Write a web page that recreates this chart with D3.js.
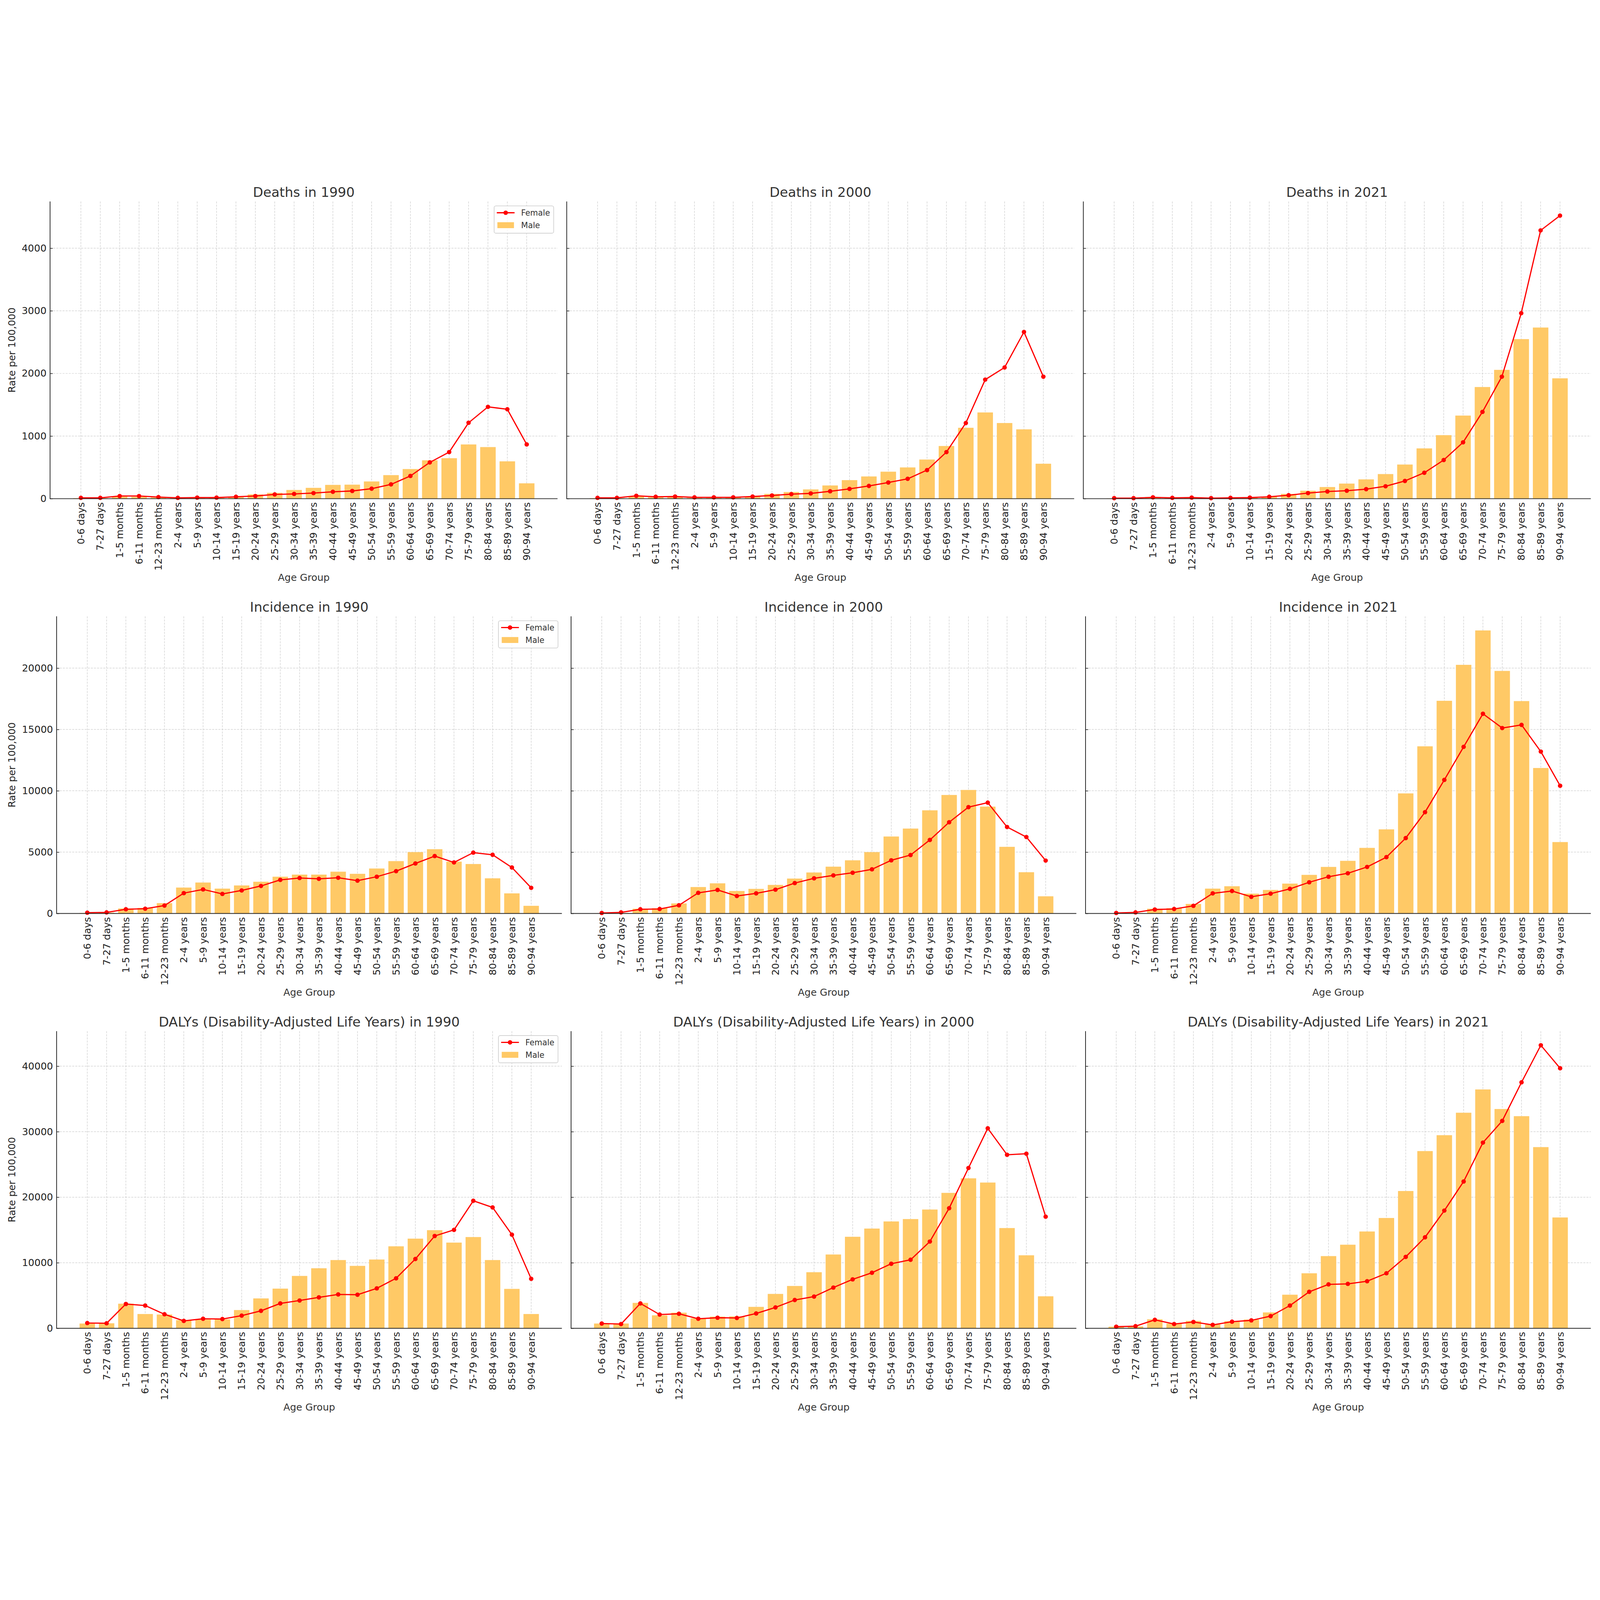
<!DOCTYPE html>
<html>
<head>
<meta charset="utf-8">
<script src="https://d3js.org/d3.v7.min.js"></script>
<style>
  html, body { margin: 0; padding: 0; background: #fff; overflow: hidden; }
  svg { display: block; }
  text { font-family: "DejaVu Sans", sans-serif; }
</style>
</head>
<body>
<script>
// age groups on the x axis
var ageGroups = ["0-6 days", "7-27 days", "1-5 months", "6-11 months", "12-23 months",
    "2-4 years", "5-9 years", "10-14 years", "15-19 years", "20-24 years", "25-29 years",
    "30-34 years", "35-39 years", "40-44 years", "45-49 years", "50-54 years", "55-59 years",
    "60-64 years", "65-69 years", "70-74 years", "75-79 years", "80-84 years", "85-89 years",
    "90-94 years"];

var years = ["1990", "2000", "2021"];

// deaths, rate per 100,000
var deaths1990Female = [13, 13, 42, 42, 25, 13, 17, 17, 30, 42, 68, 76, 89, 110, 123, 160, 228, 363, 579, 744, 1212, 1466, 1428, 866];
var deaths1990Male = [8, 8, 34, 30, 20, 8, 12, 12, 25, 68, 93, 139, 173, 220, 224, 275, 376, 473, 613, 646, 866, 824, 596, 245];
var deaths2000Female = [13, 13, 46, 30, 34, 21, 21, 21, 34, 51, 72, 84, 118, 156, 203, 258, 317, 456, 744, 1208, 1901, 2095, 2662, 1948];
var deaths2000Male = [8, 8, 38, 25, 25, 13, 13, 17, 34, 76, 106, 148, 211, 296, 355, 431, 499, 625, 841, 1132, 1377, 1208, 1107, 558];
var deaths2021Female = [8, 8, 21, 13, 17, 8, 13, 17, 30, 55, 89, 114, 127, 152, 198, 283, 414, 617, 900, 1386, 1948, 2962, 4284, 4520];
var deaths2021Male = [5, 5, 25, 17, 21, 8, 13, 17, 34, 76, 127, 186, 241, 308, 393, 545, 803, 1014, 1327, 1783, 2057, 2548, 2733, 1922];

// incidence, rate per 100,000
var incidence1990Female = [65, 86, 345, 388, 647, 1660, 1962, 1595, 1876, 2242, 2738, 2889, 2824, 2911, 2673, 2997, 3450, 4075, 4679, 4161, 4959, 4786, 3751, 2091];
var incidence1990Male = [43, 65, 410, 453, 841, 2113, 2523, 2027, 2285, 2587, 2997, 3169, 3169, 3407, 3234, 3666, 4269, 5002, 5239, 4226, 4032, 2867, 1639, 625];
var incidence2000Female = [43, 86, 345, 367, 668, 1682, 1919, 1423, 1639, 1940, 2480, 2867, 3105, 3320, 3601, 4334, 4765, 5994, 7438, 8667, 9034, 7050, 6231, 4312];
var incidence2000Male = [20, 40, 388, 431, 819, 2156, 2458, 1833, 2005, 2328, 2846, 3342, 3816, 4334, 5002, 6274, 6921, 8409, 9659, 10069, 8710, 5433, 3363, 1401];
var incidence2021Female = [43, 86, 323, 367, 625, 1639, 1833, 1358, 1617, 2005, 2544, 2997, 3277, 3795, 4592, 6145, 8258, 10888, 13583, 16278, 15114, 15373, 13195, 10414];
var incidence2021Male = [10, 30, 388, 431, 776, 2027, 2221, 1617, 1919, 2436, 3148, 3795, 4291, 5347, 6856, 9788, 13626, 17335, 20267, 23070, 19771, 17313, 11858, 5821];

// DALYs, rate per 100,000
var dalys1990Female = [807, 767, 3713, 3471, 2139, 1130, 1453, 1413, 1937, 2664, 3794, 4238, 4722, 5166, 5126, 6095, 7628, 10575, 14086, 15015, 19455, 18446, 14288, 7548];
var dalys1990Male = [727, 767, 3754, 2180, 2099, 1251, 1332, 1372, 2785, 4561, 6054, 7991, 9162, 10413, 9525, 10494, 12512, 13682, 14974, 13077, 13924, 10413, 6014, 2180];
var dalys2000Female = [727, 646, 3794, 2099, 2220, 1453, 1614, 1574, 2260, 3188, 4318, 4843, 6216, 7467, 8476, 9848, 10454, 13239, 18325, 24460, 30515, 26478, 26640, 17033];
var dalys2000Male = [727, 727, 3875, 1978, 2381, 1534, 1776, 1816, 3269, 5247, 6458, 8557, 11261, 13965, 15217, 16306, 16669, 18123, 20666, 22886, 22240, 15297, 11140, 4884];
var dalys2021Female = [242, 323, 1292, 646, 969, 525, 1009, 1211, 1857, 3471, 5570, 6700, 6781, 7185, 8395, 10898, 13884, 17962, 22402, 28335, 31645, 37538, 43189, 39677];
var dalys2021Male = [242, 283, 1372, 727, 1130, 605, 1090, 1332, 2422, 5126, 8395, 11019, 12755, 14773, 16831, 20948, 27043, 29465, 32896, 36447, 33461, 32371, 27649, 16912];

// y tick labels per row
var deathsTicks = [0, 1000, 2000, 3000, 4000];
var incidenceTicks = [0, 5000, 10000, 15000, 20000];
var dalysTicks = [0, 10000, 20000, 30000, 40000];

var measures = ["Deaths", "Incidence", "DALYs (Disability-Adjusted Life Years)"];

// rows of panels, built from the arrays above
var rows = [
    { name: measures[0], ticks: deathsTicks, panels: [
        { f: deaths1990Female, m: deaths1990Male },
        { f: deaths2000Female, m: deaths2000Male },
        { f: deaths2021Female, m: deaths2021Male }] },
    { name: measures[1], ticks: incidenceTicks, panels: [
        { f: incidence1990Female, m: incidence1990Male },
        { f: incidence2000Female, m: incidence2000Male },
        { f: incidence2021Female, m: incidence2021Male }] },
    { name: measures[2], ticks: dalysTicks, panels: [
        { f: dalys1990Female, m: dalys1990Male },
        { f: dalys2000Female, m: dalys2000Male },
        { f: dalys2021Female, m: dalys2021Male }] }
];

//layout, in the 5400 x 4200 drawing units of the viewBox
var W = 5400, H = 4200;
var rowLeft = [169, 191, 191]; //first column starts later when tick labels are wider
var rightEdge = 5369, colGap = 31;
var rowTop = [80, 1480, 2880], plotH = 1003;

var barColor = "#ffc966", lineColor = "#ff0000", gridColor = "#cccccc", axisColor = "#222";

//svg scales to the window so the whole figure is always in the picture
var svg = d3.select("body")
    .append("svg")
    .attr("viewBox", "0 0 " + W + " " + H)
    .attr("preserveAspectRatio", "xMidYMid meet")
    .style("width", "100vw")
    .style("height", "100vh")
    .style("background-color", "#fff");

rows.forEach(function(row, r){
    var top = rowTop[r], bottom = top + plotH;
    var pw = (rightEdge - rowLeft[r] - 2 * colGap) / 3;

    //shared y scale for the row, matplotlib style 5% headroom
    var rowMax = d3.max(row.panels, function(p){
        return Math.max(d3.max(p.f), d3.max(p.m));
    });
    var y = d3.scaleLinear()
        .domain([0, rowMax * 1.05])
        .range([bottom, top]);

    row.panels.forEach(function(p, c){
        var left = rowLeft[r] + c * (pw + colGap);
        var right = left + pw;

        var x = d3.scaleBand()
            .domain(ageGroups)
            .range([left, right])
            .paddingInner(0.2)
            .paddingOuter(1.19);
        var cx = function(d){ return x(d) + x.bandwidth() / 2; };

        var g = svg.append("g").attr("class", "panel");

        //grid lines
        g.selectAll(".vgrid")
            .data(ageGroups)
            .enter()
            .append("line")
            .attr("x1", cx).attr("x2", cx)
            .attr("y1", top).attr("y2", bottom)
            .style("stroke", gridColor)
            .style("stroke-width", 1.6)
            .style("stroke-dasharray", "7,3.5");
        g.selectAll(".hgrid")
            .data(row.ticks.slice(1))
            .enter()
            .append("line")
            .attr("x1", left).attr("x2", right)
            .attr("y1", function(d){ return y(d); })
            .attr("y2", function(d){ return y(d); })
            .style("stroke", gridColor)
            .style("stroke-width", 1.6)
            .style("stroke-dasharray", "7,3.5");

        //male bars
        g.selectAll(".bar")
            .data(ageGroups)
            .enter()
            .append("rect")
            .attr("class", "bar")
            .attr("x", function(d){ return x(d); })
            .attr("width", x.bandwidth())
            .attr("y", function(d, i){ return y(p.m[i]); })
            .attr("height", function(d, i){ return bottom - y(p.m[i]); })
            .style("fill", barColor);

        //female line
        var line = d3.line()
            .x(function(d, i){ return cx(ageGroups[i]); })
            .y(function(d){ return y(d); });
        g.append("path")
            .datum(p.f)
            .attr("d", line)
            .style("fill", "none")
            .style("stroke", lineColor)
            .style("stroke-width", 4)
            .style("stroke-linejoin", "round");
        g.selectAll(".dot")
            .data(p.f)
            .enter()
            .append("circle")
            .attr("cx", function(d, i){ return cx(ageGroups[i]); })
            .attr("cy", function(d){ return y(d); })
            .attr("r", 7.5)
            .style("fill", lineColor);

        //y axis, ticks pointing inward
        var yAxis = d3.axisLeft(y)
            .tickValues(row.ticks)
            .tickFormat(d3.format("d"))
            .tickSizeInner(-9)
            .tickSizeOuter(0)
            .tickPadding(12);
        var ya = g.append("g")
            .attr("transform", "translate(" + left + ",0)")
            .call(yAxis);
        ya.select(".domain").remove();
        ya.selectAll(".tick line").style("stroke", axisColor).style("stroke-width", 2);
        ya.selectAll(".tick text")
            .style("font-size", "33px")
            .style("fill", axisColor);
        if (c !== 0) ya.selectAll(".tick text").remove(); //shared y: labels on first column only

        //x axis with rotated labels
        var xAxis = d3.axisBottom(x).tickSize(0);
        var xa = g.append("g")
            .attr("transform", "translate(0," + bottom + ")")
            .call(xAxis);
        xa.select(".domain").remove();
        xa.selectAll(".tick text")
            .attr("transform", "rotate(-90)")
            .attr("x", -12)
            .attr("y", 0)
            .attr("dy", "0.35em")
            .style("text-anchor", "end")
            .style("font-size", "33px")
            .style("fill", axisColor);

        //spines (left + bottom only)
        g.append("line")
            .attr("x1", left).attr("x2", left)
            .attr("y1", top).attr("y2", bottom)
            .style("stroke", axisColor).style("stroke-width", 2.5);
        g.append("line")
            .attr("x1", left - 1.25).attr("x2", right)
            .attr("y1", bottom).attr("y2", bottom)
            .style("stroke", axisColor).style("stroke-width", 2.5);

        //title
        g.append("text")
            .attr("x", (left + right) / 2)
            .attr("y", top - 16)
            .attr("text-anchor", "middle")
            .style("font-size", "45px")
            .style("fill", "#333")
            .text(row.name + " in " + years[c]);

        //x label
        g.append("text")
            .attr("x", (left + right) / 2)
            .attr("y", bottom + 278)
            .attr("text-anchor", "middle")
            .style("font-size", "33px")
            .style("fill", "#333")
            .text("Age Group");

        if (c === 0) {
            //y label
            svg.append("text")
                .attr("transform", "translate(52," + (top + bottom) / 2 + ") rotate(-90)")
                .attr("text-anchor", "middle")
                .style("font-size", "33px")
                .style("fill", axisColor)
                .text("Rate per 100,000");

            //legend
            var lx = right - 214, ly = top + 15;
            var legend = g.append("g").attr("transform", "translate(" + lx + "," + ly + ")");
            legend.append("rect")
                .attr("width", 201).attr("height", 92)
                .attr("rx", 6)
                .style("fill", "#fff")
                .style("fill-opacity", 0.8)
                .style("stroke", "#d4d4d4")
                .style("stroke-width", 2.5);
            legend.append("line")
                .attr("x1", 9).attr("x2", 69)
                .attr("y1", 23).attr("y2", 23)
                .style("stroke", lineColor).style("stroke-width", 4);
            legend.append("circle")
                .attr("cx", 39).attr("cy", 23).attr("r", 7.5)
                .style("fill", lineColor);
            legend.append("rect")
                .attr("x", 11).attr("y", 55)
                .attr("width", 56).attr("height", 20)
                .style("fill", barColor);
            legend.append("text")
                .attr("x", 91).attr("y", 33)
                .style("font-size", "27px").style("fill", "#333")
                .text("Female");
            legend.append("text")
                .attr("x", 91).attr("y", 75)
                .style("font-size", "27px").style("fill", "#333")
                .text("Male");
        }
    });
});
</script>
</body>
</html>
